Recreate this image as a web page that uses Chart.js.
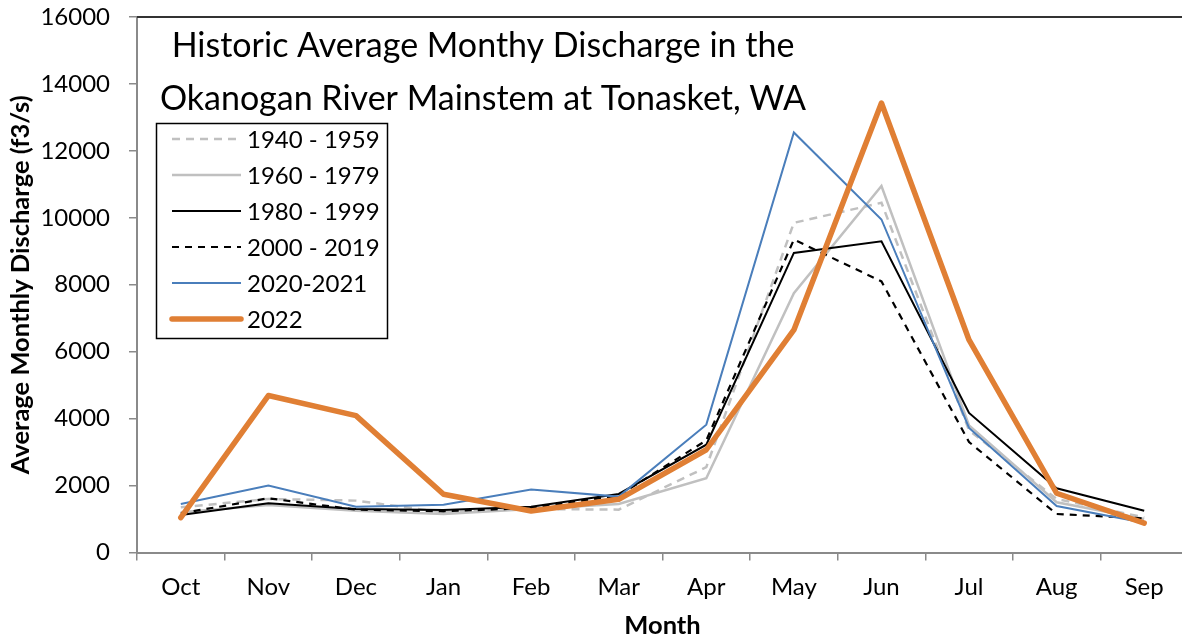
<!DOCTYPE html>
<html>
<head>
<meta charset="utf-8">
<script src="https://cdn.jsdelivr.net/npm/chart.js@4.4.0/dist/chart.umd.min.js"></script>
<style>
  html, body { margin: 0; padding: 0; background: #fff; overflow: hidden; }
  canvas { display: block; }
</style>
</head>
<body>
<canvas id="dischargeChart" width="1188" height="638"></canvas>
<script>
// months of the water year, Oct -> Sep
const months = ['Oct', 'Nov', 'Dec', 'Jan', 'Feb', 'Mar', 'Apr', 'May', 'Jun', 'Jul', 'Aug', 'Sep'];

// average monthly discharge (f3/s)
const flow1940 = [1350, 1600, 1550, 1200, 1300, 1280, 2550, 9850, 10450, 3650, 1600, 1050];
const flow1960 = [1200, 1420, 1250, 1150, 1300, 1450, 2220, 7750, 10950, 3800, 1500, 1000];
const flow1980 = [1120, 1470, 1300, 1270, 1370, 1750, 3220, 8950, 9300, 4170, 1920, 1250];
const flow2000 = [1170, 1620, 1280, 1230, 1330, 1700, 3350, 9350, 8100, 3300, 1150, 1020];
const flow2020 = [1450, 2000, 1370, 1430, 1880, 1670, 3820, 12550, 9950, 3720, 1390, 890];
const flow2022 = [1040, 4690, 4090, 1740, 1240, 1590, 3070, 6650, 13430, 6350, 1770, 875];

const yTicks = [0, 2000, 4000, 6000, 8000, 10000, 12000, 14000, 16000];

const titleLines = ['Historic Average Monthy Discharge in the', 'Okanogan River Mainstem at Tonasket, WA'];

const FONT = 'Lato, Carlito, Calibri, sans-serif';
const AXIS_GREY = '#8a8a8a';

// title text + legend box sit inside the plot area, like the Excel original
const insidePlot = {
  id: 'insidePlot',
  afterDraw(chart) {
    const ctx = chart.ctx;
    const area = chart.chartArea;
    ctx.save();

    // dark top border of the plot area
    ctx.strokeStyle = '#333';
    ctx.lineWidth = 2;
    ctx.beginPath();
    ctx.moveTo(area.left, area.top);
    ctx.lineTo(area.right, area.top);
    ctx.stroke();

    // title
    ctx.fillStyle = '#000';
    ctx.font = '34px ' + FONT;
    ctx.textAlign = 'center';
    ctx.textBaseline = 'alphabetic';
    ctx.fillText(titleLines[0], 483, 57);
    ctx.fillText(titleLines[1], 483, 110);

    // legend
    const box = { x: 156.5, y: 123.5, w: 231, h: 215 };
    ctx.fillStyle = '#fff';
    ctx.fillRect(box.x, box.y, box.w, box.h);
    ctx.strokeStyle = '#000';
    ctx.lineWidth = 1.5;
    ctx.strokeRect(box.x, box.y, box.w, box.h);

    ctx.font = '24px ' + FONT;
    ctx.textAlign = 'left';
    ctx.textBaseline = 'middle';
    chart.data.datasets.forEach((ds, i) => {
      const y = 139 + i * 36;
      ctx.strokeStyle = ds.borderColor;
      ctx.lineWidth = ds.borderWidth;
      ctx.lineCap = ds.borderCapStyle || 'butt';
      ctx.setLineDash(ds.borderDash || []);
      ctx.beginPath();
      ctx.moveTo(172, y);
      ctx.lineTo(241, y);
      ctx.stroke();
      ctx.setLineDash([]);
      ctx.fillStyle = '#000';
      ctx.fillText(ds.label, 247, y + 1);
    });
    ctx.restore();
  }
};

const ctx = document.getElementById('dischargeChart').getContext('2d');
new Chart(ctx, {
  type: 'line',
  data: {
    labels: months,
    datasets: [
      { label: '1940 - 1959', data: flow1940, borderColor: '#c0c0c0', borderWidth: 2.5, borderDash: [8, 6], order: 5 },
      { label: '1960 - 1979', data: flow1960, borderColor: '#c0c0c0', borderWidth: 2.5, order: 4 },
      { label: '1980 - 1999', data: flow1980, borderColor: '#000000', borderWidth: 2, order: 3 },
      { label: '2000 - 2019', data: flow2000, borderColor: '#000000', borderWidth: 2.2, borderDash: [7, 6], order: 2 },
      { label: '2020-2021', data: flow2020, borderColor: '#4a7ebb', borderWidth: 2, order: 1 },
      { label: '2022', data: flow2022, borderColor: '#e07f34', borderWidth: 5.5,
        borderCapStyle: 'round', borderJoinStyle: 'round', order: 0 }
    ]
  },
  options: {
    responsive: false,
    animation: false,
    layout: { padding: { top: 17, right: 0, left: 0, bottom: 0 } },
    elements: {
      line: { tension: 0, fill: false },
      point: { radius: 0, hoverRadius: 0 }
    },
    plugins: {
      legend: { display: false },
      title: { display: false },
      tooltip: { enabled: false }
    },
    scales: {
      x: {
        offset: true,
        afterFit: s => { s.height = 85.5; s.paddingLeft = 0; s.paddingRight = 0; },
        grid: { offset: true, drawOnChartArea: false, tickLength: 8, color: AXIS_GREY, lineWidth: 1.5 },
        border: { color: AXIS_GREY, width: 2 },
        ticks: { color: '#000', padding: 12, font: { family: FONT, size: 24 } },
        title: {
          display: true, text: 'Month', color: '#000',
          padding: { top: 0, bottom: -3 },
          font: { family: FONT, size: 25.5, weight: 'bold' }
        }
      },
      y: {
        min: 0,
        max: 16000,
        // fixed axis width, and no extra room above the plot for the top label
        afterFit: s => { s.width = 137; s.paddingTop = 0; s.paddingBottom = 0; },
        afterBuildTicks: s => { s.ticks = yTicks.map(v => ({ value: v })); },
        grid: { drawOnChartArea: false, tickLength: 8, color: AXIS_GREY, lineWidth: 1.5 },
        border: { color: AXIS_GREY, width: 2 },
        ticks: {
          color: '#000', padding: 19, font: { family: FONT, size: 24 },
          callback: v => String(v)
        },
        title: {
          display: true, text: 'Average Monthly Discharge (f3/s)', color: '#000',
          padding: { top: 5, bottom: 0 },
          font: { family: FONT, size: 25.5, weight: 'bold' }
        }
      }
    }
  },
  plugins: [insidePlot]
});
</script>
</body>
</html>
